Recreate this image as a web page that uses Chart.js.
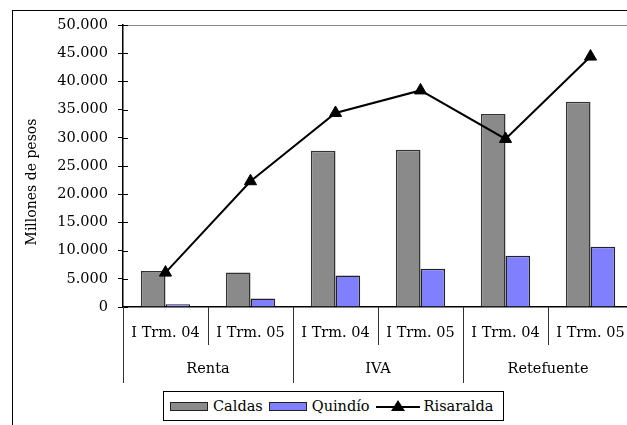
<!DOCTYPE html>
<html>
<head>
<meta charset="utf-8">
<script src="https://cdn.jsdelivr.net/npm/chart.js@4.4.1/dist/chart.umd.min.js"></script>
<style>
    html, body { margin: 0; padding: 0; background: #fff; overflow: hidden; }
    body { width: 627px; height: 425px; position: relative; font-family: "DejaVu Serif", serif; }
    #frame { position: absolute; left: 12px; top: 10px; width: 700px; height: 500px; border: 1.5px solid #000; }
    #wrap { position: absolute; left: 0; top: 0; width: 660px; height: 425px; }
    #legend { position: absolute; left: 163px; top: 391px; width: 339px; height: 28px; border: 1px solid #000;
              display: flex; align-items: center; font-size: 14.5px; color: #000; background: #fff; }
    .item { display: flex; align-items: center; margin-left: 6px; }
    .box { display: inline-block; width: 36px; height: 7px; border: 1px solid #222; margin-right: 5px; }
</style>
</head>
<body>
<div id="frame"></div>
<div id="wrap"><canvas id="taxChart" width="660" height="425"></canvas></div>
<div id="legend"></div>
<script>
// Data (millones de pesos)
const quarters = ['I Trm. 04', 'I Trm. 05', 'I Trm. 04', 'I Trm. 05', 'I Trm. 04', 'I Trm. 05'];
const groups = ['Renta', 'IVA', 'Retefuente'];
const caldas = [6400, 6100, 27700, 27900, 34200, 36400];
const quindio = [500, 1500, 5600, 6800, 9100, 10700];
const risaralda = [6100, 22300, 34400, 38400, 29800, 44400];
const yTicks = [0, 5000, 10000, 15000, 20000, 25000, 30000, 35000, 40000, 45000, 50000];

const FONT = { family: '"DejaVu Serif", serif', size: 14.5 };

// Thousands with a dot, as in the original ("50.000")
const formatMiles = (v) => String(v).replace(/\B(?=(\d{3})+(?!\d))/g, '.');

// Draws the pieces Chart.js has no option for: two-level category axis,
// inner tick marks, plot top border and the offset axis title
const decorPlugin = {
    id: 'decor',
    afterDraw(chart) {
        const ctx = chart.ctx;
        const area = chart.chartArea;
        const x = chart.scales.x;
        const y = chart.scales.y;
        ctx.save();

        // top border of the plot area
        ctx.strokeStyle = '#888';
        ctx.lineWidth = 1;
        ctx.beginPath();
        ctx.moveTo(area.left, area.top + 0.5);
        ctx.lineTo(area.right, area.top + 0.5);
        ctx.stroke();

        // tick marks crossing into the plot
        ctx.strokeStyle = '#000';
        ctx.beginPath();
        y.ticks.forEach((t) => {
            const py = Math.round(y.getPixelForValue(t.value)) + 0.5;
            ctx.moveTo(area.left, py);
            ctx.lineTo(area.left + 5, py);
        });
        ctx.stroke();

        // separators between categories
        const edge = (i) => {
            if (i <= 0) return x.left;
            if (i >= quarters.length) return x.right;
            return (x.getPixelForValue(i - 1) + x.getPixelForValue(i)) / 2;
        };
        ctx.strokeStyle = '#333';
        ctx.beginPath();
        for (let i = 0; i <= quarters.length; i++) {
            const px = Math.round(edge(i)) + 0.5;
            const long = i % 2 === 0;
            ctx.moveTo(px, area.bottom);
            ctx.lineTo(px, long ? area.bottom + 76 : area.bottom + 38);
        }
        ctx.stroke();

        // group labels
        ctx.fillStyle = '#000';
        ctx.font = `${FONT.size}px ${FONT.family}`;
        ctx.textAlign = 'center';
        ctx.textBaseline = 'middle';
        groups.forEach((g, gi) => {
            const cx = (edge(gi * 2) + edge(gi * 2 + 2)) / 2;
            ctx.fillText(g, cx, area.bottom + 62);
        });

        // y axis title
        ctx.translate(32, 182);
        ctx.rotate(-Math.PI / 2);
        ctx.font = `14px ${FONT.family}`;
        ctx.fillText('Millones de pesos', 0, 0);
        ctx.restore();
    }
};

const datasets = [
    {
        type: 'line',
        label: 'Risaralda',
        data: risaralda,
        borderColor: '#000',
        backgroundColor: '#000',
        borderWidth: 2,
        pointStyle: 'triangle',
        pointRadius: 7,
        pointBorderWidth: 1,
        tension: 0,
        order: 0
    },
    {
        label: 'Caldas',
        data: caldas,
        backgroundColor: '#8a8a8a',
        borderColor: '#333',
        borderWidth: 1.5,
        order: 1
    },
    {
        label: 'Quindío',
        data: quindio,
        backgroundColor: '#8080ff',
        borderColor: '#222',
        borderWidth: 1.5,
        order: 1
    }
];

new Chart(document.getElementById('taxChart'), {
    type: 'bar',
    data: { labels: quarters, datasets: datasets },
    options: {
        responsive: false,
        animation: false,
        layout: { padding: { top: 25, right: 27, bottom: 0, left: 0 } },
        datasets: { bar: { barPercentage: 1, categoryPercentage: 0.58 } },
        plugins: { legend: { display: false }, tooltip: { enabled: false } },
        scales: {
            x: {
                afterFit: (scale) => { scale.height = 118; },
                grid: { drawOnChartArea: false, drawTicks: false },
                border: { color: '#000', width: 1.5 },
                ticks: { color: '#000', font: FONT, padding: 18, maxRotation: 0, autoSkip: false }
            },
            y: {
                min: 0,
                max: 50000,
                afterFit: (scale) => { scale.width = 123; },
                afterBuildTicks: (scale) => { scale.ticks = yTicks.map((v) => ({ value: v })); },
                grid: { drawOnChartArea: false, tickLength: 5, color: '#000' },
                border: { color: '#000', width: 1.5 },
                ticks: { color: '#000', font: FONT, padding: 10, callback: (v) => formatMiles(v) }
            }
        }
    },
    plugins: [decorPlugin]
});

// HTML legend in the original's order
const legend = document.getElementById('legend');
[datasets[1], datasets[2], datasets[0]].forEach((ds) => {
    const item = document.createElement('span');
    item.className = 'item';
    if (ds.type === 'line') {
        item.innerHTML = '<svg width="44" height="14" style="margin-right:4px">' +
            '<line x1="0" y1="8" x2="44" y2="8" stroke="#000" stroke-width="2"/>' +
            '<polygon points="22,1 29,12 15,12" fill="#000"/></svg>';
    } else {
        const box = document.createElement('span');
        box.className = 'box';
        box.style.background = ds.backgroundColor;
        item.appendChild(box);
    }
    item.appendChild(document.createTextNode(ds.label));
    legend.appendChild(item);
});
</script>
</body>
</html>
